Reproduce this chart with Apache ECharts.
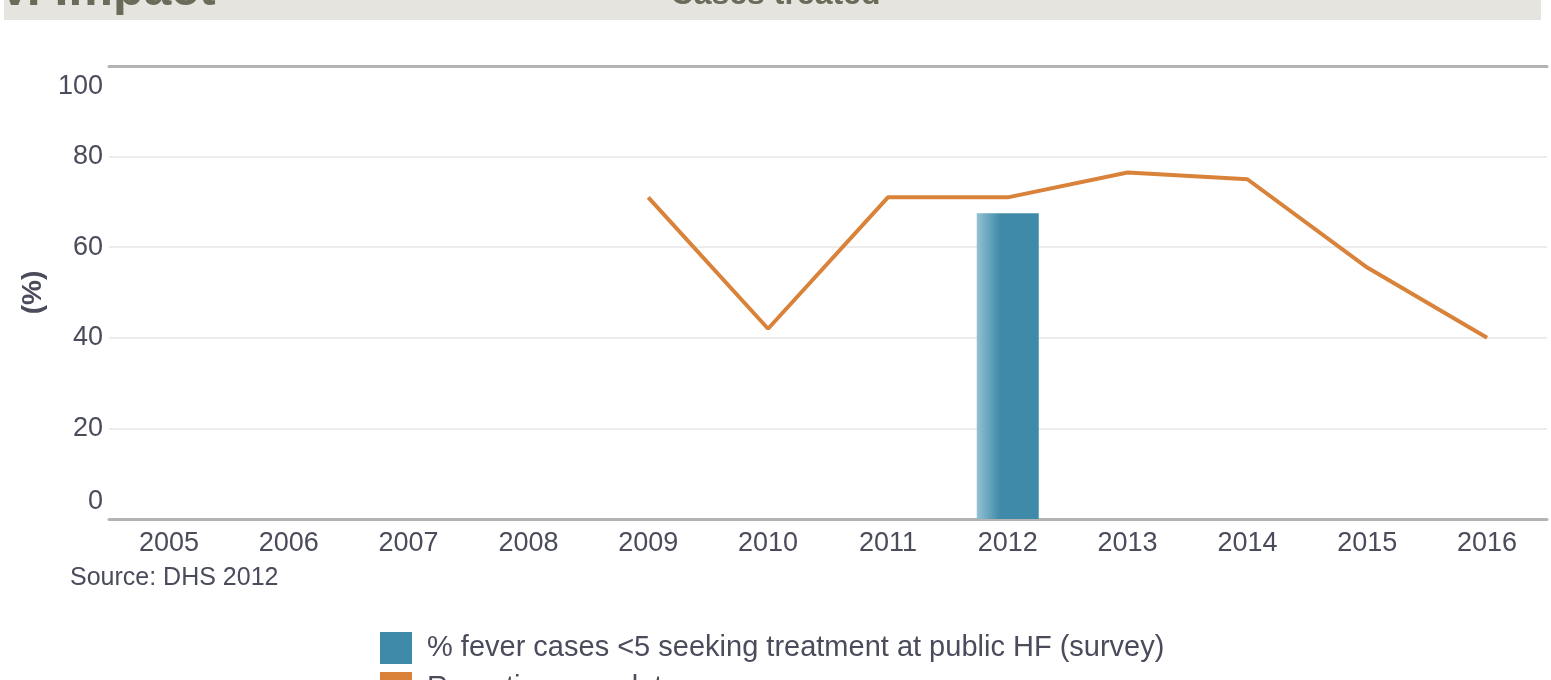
<!DOCTYPE html>
<html>
<head>
<meta charset="utf-8">
<style>
html,body{margin:0;padding:0;background:#fff;}
#chart{width:1551px;height:680px;}
</style>
<script src="https://cdn.jsdelivr.net/npm/echarts@6/dist/echarts.min.js"></script>
</head>
<body>
<div id="chart"></div>
<script>
const years = ['2005','2006','2007','2008','2009','2010','2011','2012','2013','2014','2015','2016'];
const feverSeeking = ['-','-','-','-','-','-','-',67.5,'-','-','-','-'];
const reportingCompleteness = ['-','-','-','-',71,42,71,71,76.5,75,55.5,40];
const yTicks = [0,20,40,60,80,100];
const seriesNames = ['% fever cases <5 seeking treatment at public HF (survey)','Reporting completeness'];

const txt = '#4a4b5b';
const chart = echarts.init(document.getElementById('chart'), null, {renderer:'canvas'});
chart.setOption({
  animation:false,
  textStyle:{fontFamily:'Liberation Sans, Arial, sans-serif'},
  grid:{left:109,right:4,top:66,bottom:161,containLabel:false},
  graphic:[
    {type:'rect',left:4,top:0,shape:{width:1537,height:20},style:{fill:'#e5e4df'},z:-1},
    {type:'text',left:-2,top:-34,style:{text:'V. Impact',fontSize:50,fontWeight:'bold',fill:'#6c6b5a',fontFamily:'Liberation Sans, Arial, sans-serif'}},
    {type:'text',left:'center',top:-21,style:{text:'Cases treated',fontSize:32,fontWeight:'bold',fill:'#6c6b5a',fontFamily:'Liberation Sans, Arial, sans-serif'}},
    {type:'text',left:70,top:566,style:{text:'Source: DHS 2012',fontSize:25,fill:txt,fontFamily:'Liberation Sans, Arial, sans-serif'}}
  ],
  legend:{
    orient:'vertical',left:380,top:632,height:200,padding:0,
    itemWidth:32,itemHeight:32,itemGap:8,
    icon:'rect',
    data:[
      {name:seriesNames[0],itemStyle:{color:'#3e8aa8'}},
      {name:seriesNames[1],itemStyle:{color:'#d9833a'}}
    ],
    textStyle:{fontSize:29,color:txt,padding:[0,0,0,10]}
  },
  xAxis:[
    {type:'category',data:years,position:'bottom',
     axisLine:{lineStyle:{color:'#b3b3b3',width:3}},
     axisTick:{show:false},
     axisLabel:{fontSize:27,color:txt,margin:11},
     splitLine:{show:false}},
    {type:'category',data:years,position:'top',
     axisLine:{lineStyle:{color:'#b3b3b3',width:3}},
     axisTick:{show:false},axisLabel:{show:false},splitLine:{show:false}}
  ],
  yAxis:{
    type:'value',min:0,max:100,interval:20,
    name:'(%)',nameLocation:'middle',nameRotate:90,nameGap:60,
    nameTextStyle:{fontSize:28,fontWeight:'bold',color:txt},
    axisLine:{show:false},axisTick:{show:false},
    axisLabel:{
      fontSize:27,color:txt,margin:6,
      formatter:function(v){
        if(v===0) return '{lo|0}';
        if(v===100) return '{hi|100}';
        return String(v);
      },
      rich:{
        lo:{fontSize:27,color:txt,padding:[0,0,34,0]},
        hi:{fontSize:27,color:txt,padding:[42,0,0,0]}
      }
    },
    splitLine:{lineStyle:{color:'#ececec',width:2}}
  },
  series:[
    {name:seriesNames[0],type:'bar',data:feverSeeking,barWidth:62,
     itemStyle:{color:new echarts.graphic.LinearGradient(0,0,1,0,[
       {offset:0,color:'#93c1d2'},{offset:0.38,color:'#3f8aa8'},{offset:1,color:'#3e8aa8'}])},
     z:2},
    {name:seriesNames[1],type:'line',data:reportingCompleteness,
     showSymbol:false,symbol:'none',
     lineStyle:{color:'#d9833a',width:4},itemStyle:{color:'#d9833a'},z:3}
  ]
});
</script>
</body>
</html>
